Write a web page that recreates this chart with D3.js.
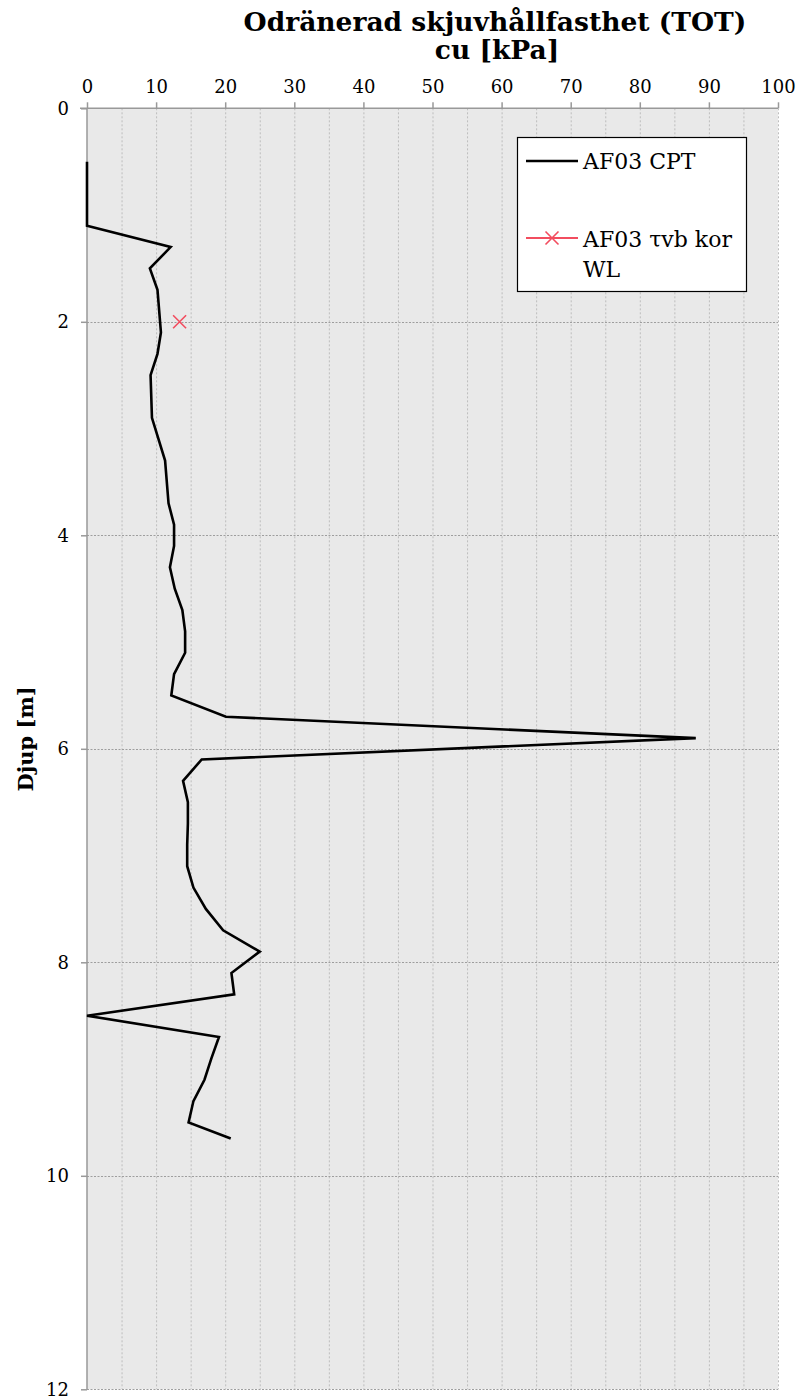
<!DOCTYPE html>
<html>
<head>
<meta charset="utf-8">
<script src="https://cdn.jsdelivr.net/npm/d3@7/dist/d3.min.js"></script>
<style>
  html, body { margin: 0; padding: 0; background: #ffffff; }
  svg { display: block; }
</style>
</head>
<body>
<svg id="chart" width="799" height="1400" font-family="DejaVu Serif, Liberation Serif, serif"></svg>
<script>
// CPT profile: depth [m] and undrained shear strength cu [kPa]
const cptDepth = [0.5, 1.1, 1.3, 1.5, 1.7, 2.1, 2.3, 2.5, 2.9, 3.3, 3.7, 3.9, 4.1, 4.3, 4.5, 4.7, 4.9, 5.1, 5.3, 5.5, 5.7, 5.9, 6.1, 6.3, 6.5, 6.7, 6.9, 7.1, 7.3, 7.5, 7.7, 7.9, 8.1, 8.3, 8.5, 8.7, 8.9, 9.1, 9.3, 9.5, 9.65];
const cptCu    = [0, 0, 12.1, 9.1, 10.2, 10.7, 10.2, 9.2, 9.4, 11.3, 11.8, 12.6, 12.6, 12.0, 12.7, 13.8, 14.2, 14.2, 12.6, 12.2, 20.1, 88.1, 16.6, 13.9, 14.6, 14.6, 14.5, 14.5, 15.4, 17.2, 19.7, 25.0, 20.9, 21.3, 0, 19.1, 18.0, 17.0, 15.4, 14.7, 20.8];

// Corrected field vane test point
const vaneDepth = [2.0];
const vaneCu    = [13.4];

// Axis ticks
const xTicks = [0, 10, 20, 30, 40, 50, 60, 70, 80, 90, 100];
const xMinorTicks = [5, 15, 25, 35, 45, 55, 65, 75, 85, 95, 100];
const yTicks = [0, 2, 4, 6, 8, 10, 12];

const seriesNames = ["AF03 CPT", "AF03 \u03c4vb kor", "WL"];

const FONT = "'DejaVu Serif', 'Liberation Serif', serif";
const svg = d3.select("#chart");
const plotLeft = 87, plotRight = 778, plotTop = 108.3, plotBottom = 1389.3;

const x = d3.scaleLinear().domain([0, 100]).range([plotLeft, plotRight]);
const y = d3.scaleLinear().domain([0, 12]).range([plotTop, plotBottom]);

// plot background
svg.append("rect")
  .attr("x", plotLeft).attr("y", plotTop)
  .attr("width", plotRight - plotLeft).attr("height", plotBottom - plotTop)
  .attr("fill", "#e9e9e9");

// vertical gridlines
svg.append("g").selectAll("line").data(xMinorTicks.concat(xTicks.filter(d => d > 0 && d < 100))).join("line")
  .attr("x1", d => x(d) + 0.5).attr("x2", d => x(d) + 0.5)
  .attr("y1", plotTop).attr("y2", plotBottom)
  .attr("stroke", "#bdbdbd").attr("stroke-width", 1)
  .attr("stroke-dasharray", "2,2");

// horizontal gridlines
svg.append("g").selectAll("line").data(yTicks.filter(d => d > 0)).join("line")
  .attr("x1", plotLeft).attr("x2", plotRight)
  .attr("y1", d => Math.round(y(d)) + 0.5).attr("y2", d => Math.round(y(d)) + 0.5)
  .attr("stroke", "#9e9e9e").attr("stroke-width", 1)
  .attr("stroke-dasharray", "2,1.5");

// top axis
const xAxis = d3.axisTop(x).tickValues(xTicks).tickSize(6).tickPadding(9).tickFormat(d3.format("d"));
const gx = svg.append("g").attr("transform", `translate(0,${plotTop})`).call(xAxis);
gx.select(".domain").attr("stroke", "#999").attr("stroke-width", 1.5).attr("d", `M${plotLeft - 7},0H${plotRight}`);
gx.selectAll(".tick line").attr("stroke", "#999").attr("stroke-width", 1.5);
gx.selectAll(".tick text").attr("fill", "#000")
  .style("font-family", FONT).style("font-size", "18px");

// left axis
const yAxis = d3.axisLeft(y).tickValues(yTicks).tickSize(6).tickPadding(12).tickFormat(d3.format("d"));
const gy = svg.append("g").attr("transform", `translate(${plotLeft},0)`).call(yAxis);
gy.select(".domain").attr("stroke", "#999").attr("stroke-width", 1.5).attr("d", `M0,${plotTop}V${plotBottom}`);
gy.selectAll(".tick line").attr("stroke", "#999").attr("stroke-width", 1.5);
gy.selectAll(".tick text").attr("fill", "#000")
  .style("font-family", FONT).style("font-size", "18px");

// CPT line
const cptData = cptDepth.map((d, i) => ({ depth: d, cu: cptCu[i] }));
svg.append("path")
  .datum(cptData)
  .attr("fill", "none")
  .attr("stroke", "#000")
  .attr("stroke-width", 2.6)
  .attr("stroke-linejoin", "miter")
  .attr("d", d3.line().x(d => x(d.cu)).y(d => y(d.depth)));

// vane point marker
const cross = (cx, cy, s) => `M${cx - s},${cy - s}L${cx + s},${cy + s}M${cx - s},${cy + s}L${cx + s},${cy - s}`;
svg.append("g").selectAll("path").data(vaneDepth.map((d, i) => ({ depth: d, cu: vaneCu[i] }))).join("path")
  .attr("d", d => cross(x(d.cu), y(d.depth), 6.5))
  .attr("stroke", "#f24d5f").attr("stroke-width", 1.6).attr("fill", "none");

// legend
const lg = svg.append("g").style("font-family", FONT).style("font-size", "22px");
lg.append("rect").attr("x", 517.5).attr("y", 137.5).attr("width", 229).attr("height", 154)
  .attr("fill", "#fff").attr("stroke", "#000").attr("stroke-width", 1.2);
lg.append("line").attr("x1", 526).attr("x2", 578).attr("y1", 161).attr("y2", 161)
  .attr("stroke", "#000").attr("stroke-width", 2.6);
lg.append("text").attr("x", 583).attr("y", 169).text(seriesNames[0]);
lg.append("line").attr("x1", 526).attr("x2", 578).attr("y1", 238).attr("y2", 238)
  .attr("stroke", "#f24d5f").attr("stroke-width", 2.2);
lg.append("path").attr("d", cross(552, 238, 6.5)).attr("stroke", "#f24d5f").attr("stroke-width", 1.6);
lg.append("text").attr("x", 583).attr("y", 247).text(seriesNames[1]);
lg.append("text").attr("x", 583).attr("y", 277).text(seriesNames[2]);

// titles
svg.append("text").attr("x", 495).attr("y", 31).attr("text-anchor", "middle")
  .style("font-family", FONT).style("font-size", "26.5px").style("font-weight", "bold")
  .text("Odränerad skjuvhållfasthet (TOT)");
svg.append("text").attr("x", 497).attr("y", 59).attr("text-anchor", "middle")
  .style("font-family", FONT).style("font-size", "26.5px").style("font-weight", "bold")
  .text("cu [kPa]");
svg.append("text").attr("transform", "translate(33,739) rotate(-90)").attr("text-anchor", "middle")
  .style("font-family", FONT).style("font-size", "21px").style("font-weight", "bold")
  .text("Djup [m]");
</script>
</body>
</html>
